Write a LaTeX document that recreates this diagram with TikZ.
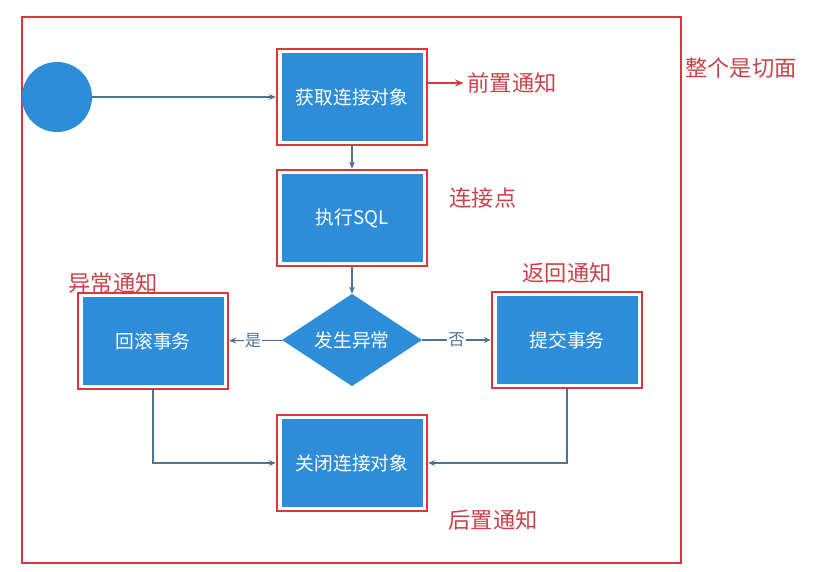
\documentclass[tikz,border=0pt]{standalone}
\usepackage{fontspec}
\setmainfont{Noto Sans CJK SC}
\usepackage{tikz}
\usetikzlibrary{shapes.geometric, arrows.meta, positioning, fit}

\definecolor{boxblue}{HTML}{2E8DD8}
\definecolor{linegray}{HTML}{4D7392}
\definecolor{framered}{HTML}{D9363E}
\definecolor{notered}{HTML}{C9424A}

\begin{document}
\begin{tikzpicture}[x=0.3mm, y=-0.3mm,
  box/.style={fill=boxblue, text=white, minimum width=4.23cm, minimum height=2.62cm, align=center, font=\fontsize{16}{18}\selectfont},
  frame/.style={draw=framered, line width=1.9pt, inner sep=0.13cm},
  note/.style={text=notered, font=\fontsize{19}{22}\selectfont},
  arr/.style={-{Stealth[length=6pt, width=5pt]}, draw=linegray, line width=0.9pt},
  tag/.style={fill=white, text=linegray, inner sep=1pt, font=\fontsize{14}{16}\selectfont}
]
\useasboundingbox (0,0) rectangle (835,571);

% whole aspect
\draw[framered, line width=1.7pt] (22,17) rectangle (681,563);

\node[circle, fill=boxblue, minimum size=2.1cm] (start) at (57, 97) {};

\node[box] (get) at (352, 97) {获取连接对象};
\node[box] (exec) at (352, 218) {执行SQL};
\node[diamond, fill=boxblue, text=white, minimum width=4.2cm, minimum height=2.55cm, inner sep=0pt, font=\fontsize{16}{18}\selectfont] (cond) at (352, 340) {发生异常};
\node[box] (roll) at (153, 341) {回滚事务};
\node[box] (commit) at (567, 340) {提交事务};
\node[box] (close) at (352, 463) {关闭连接对象};

\node[frame, fit=(get)] (fget) {};
\node[frame, fit=(exec)] (fexec) {};
\node[frame, fit=(roll)] (froll) {};
\node[frame, fit=(commit)] (fcommit) {};
\node[frame, fit=(close)] (fclose) {};

% advice labels
\node[note] (pre) at (512, 83) {前置通知};
\node[note] (joint) at (483, 198) {连接点};
\node[note] (thrown) at (113, 283) {异常通知};
\node[note] (ret) at (567, 273) {返回通知};
\node[note] (post) at (493, 520) {后置通知};
\node[note] (whole) at (741, 68) {整个是切面};

\draw[arr] (start) -- (fget);
\draw[arr] (fget) -- (fexec);
\draw[arr] (fexec) -- (cond);
\draw[arr] (cond) -- node[tag, pos=0.55] (yes) {是} (froll);
\draw[arr] (cond) -- node[tag] (no) {否} (fcommit);
\draw[arr] (froll) |- (fclose);
\draw[arr] (fcommit) |- (fclose);

\draw[-{Stealth[length=7pt, width=6pt]}, framered, line width=1.4pt] (fget.east |- pre) -- (pre.west);

\end{tikzpicture}
\end{document}
